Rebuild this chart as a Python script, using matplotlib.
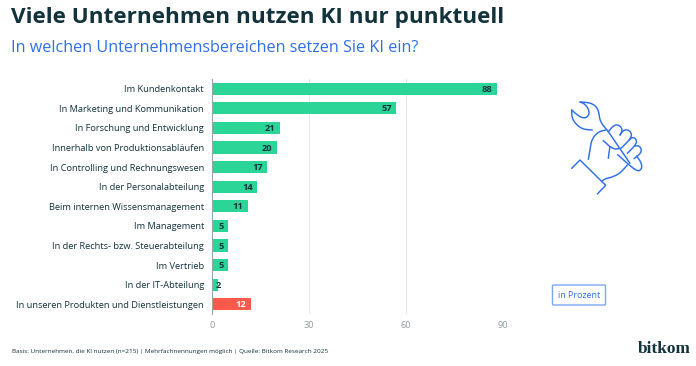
import matplotlib
matplotlib.use("Agg")
import matplotlib.pyplot as plt
from matplotlib.patches import FancyBboxPatch

categories = ["Im Kundenkontakt", "In Marketing und Kommunikation", "In Forschung und Entwicklung",
              "Innerhalb von Produktionsabläufen", "In Controlling und Rechnungswesen",
              "In der Personalabteilung", "Beim internen Wissensmanagement", "Im Management",
              "In der Rechts- bzw. Steuerabteilung", "Im Vertrieb", "In der IT-Abteilung",
              "In unseren Produkten und Dienstleistungen"]
values = [88, 57, 21, 20, 17, 14, 11, 5, 5, 5, 2, 12]
xticks = [0, 30, 60, 90]
title = "Viele Unternehmen nutzen KI nur punktuell"
subtitle = "In welchen Unternehmensbereichen setzen Sie KI ein?"
footnote = "Basis: Unternehmen, die KI nutzen (n=215) | Mehrfachnennungen möglich | Quelle: Bitkom Research 2025"

GREEN, RED, DARK, BLUE = "#2BD598", "#FF5A4B", "#12323C", "#2F6FED"
W, H = 696, 366
plt.rcParams["font.family"] = ["Open Sans", "DejaVu Sans"]
fig = plt.figure(figsize=(W/100, H/100), dpi=100, facecolor="white")

ax = fig.add_axes([212/W, 1-314/H, 291/W, 235/H])
colors = [GREEN]*(len(values)-1) + [RED]
ax.barh(range(len(values)), values, height=0.62, color=colors, zorder=2)
ax.set_xlim(0, 90)
ax.set_ylim(11.5, -0.5)
ax.set_yticks(range(len(values)), categories, fontsize=6.68, color=DARK)
ax.set_xticks(xticks, [str(t) for t in xticks], fontsize=6.6, color="#8E9A9E")
ax.tick_params(axis="both", length=0)
ax.tick_params(axis="y", pad=5.8)
ax.tick_params(axis="x", pad=5)
ax.grid(axis="x", color="#E4E7E8", lw=0.7, zorder=0)
ax.set_axisbelow(True)
for s in ["top", "right", "bottom"]:
    ax.spines[s].set_visible(False)
ax.spines["left"].set_color("#9AA5A8")
ax.spines["left"].set_linewidth(0.8)
ax.spines["left"].set_zorder(3)
n = len(values)
for i, v in enumerate(values):
    if i == n-1:
        xpos, c = v/2 + 3.0, "white"
    elif v >= 10:
        xpos, c = v - 3.0, DARK
    elif v > 2:
        xpos, c = v/2 + 0.4, DARK
    else:
        xpos, c = v, DARK
    ax.text(xpos, i+0.03, str(v), ha="center", va="center", fontsize=6.7, fontweight="bold", color=c, zorder=4)

ov = fig.add_axes([0, 0, 1, 1], facecolor="none")
ov.set_xlim(0, W); ov.set_ylim(H, 0); ov.axis("off")
ov.text(11, 17, title, fontsize=16.2, fontweight="bold", color=DARK, va="center", ha="left")
ov.text(11, 48, subtitle, fontsize=11.63, color=BLUE, va="center", ha="left")
ov.text(12, 352, footnote, fontsize=4.57, color=DARK, va="center", ha="left")
ov.text(638, 349, "bitkom", fontsize=12.4, family=["Liberation Serif"], fontweight="bold", color=DARK, va="center", ha="left")
ov.add_patch(FancyBboxPatch((552.5, 285), 53, 20, boxstyle="round,pad=0,rounding_size=1", fc="white", ec="#7FA6F5", lw=1))
ov.text(579, 295.5, "in Prozent", fontsize=6.4, color=BLUE, va="center", ha="center")

def z(pts):
    return [540+p[0]/3 for p in pts], [80+p[1]/3 for p in pts]

def smooth(pts, rounds=2):
    for _ in range(rounds):
        new = [pts[0]]
        for a, b in zip(pts[:-1], pts[1:]):
            new.append((0.75*a[0]+0.25*b[0], 0.75*a[1]+0.25*b[1]))
            new.append((0.25*a[0]+0.75*b[0], 0.25*a[1]+0.75*b[1]))
        new.append(pts[-1])
        pts = new
    return pts

icon_curves = [
    [(120,66),(148,68),(165,76),(176,92),(180,125),(205,155)],
    [(120,66),(135,72),(147,90),(147,105),(135,115),(118,110),(95,90)],
    [(95,90),(96,115),(110,135),(130,148),(157,150)],
    [(145,238),(150,210),(155,178),(175,155),(198,150)],
    [(205,155),(222,135),(238,135),(248,150),(240,165)],
    [(240,165),(250,150),(268,150),(276,165),(268,180),(243,205)],
    [(268,180),(275,172),(287,175),(291,190),(262,220)],
    [(285,198),(298,197),(305,210),(300,222),(282,236)],
    [(290,228),(305,250),(305,268),(290,275),(233,224)],
    [(210,200),(207,218),(205,235)],
    [(240,205),(225,208),(210,200)],
    [(262,255),(240,280),(215,292),(195,296),(185,305)],
]
icon_straight = [
    [(205,155),(270,250)],
    [(190,182),(210,200)],
    [(95,265),(120,240),(197,316),(172,342)],
]
for seg in [smooth(s) for s in icon_curves] + icon_straight:
    xs, ys = z(seg)
    ov.plot(xs, ys, color=BLUE, lw=1.05, solid_capstyle="round", solid_joinstyle="round")

fig.savefig("out.png", dpi=100, facecolor="white")
